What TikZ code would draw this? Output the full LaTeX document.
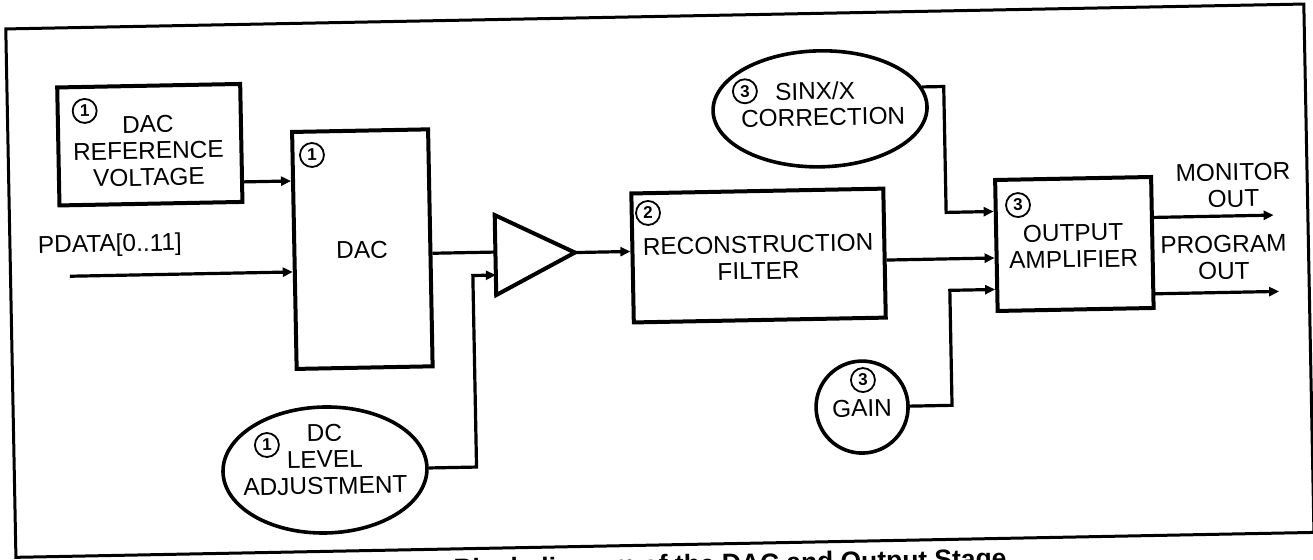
\documentclass[tikz,border=0pt]{standalone}
\usepackage{fontspec}
\setmainfont{Liberation Sans}
\usetikzlibrary{shapes.geometric,arrows.meta}
\tikzset{
  blk/.style={draw, line width=2pt, rectangle, inner sep=0pt},
  oval/.style={draw, line width=1.8pt, ellipse, inner sep=0pt},
  num/.style={draw, circle, line width=0.9pt, inner sep=0pt, minimum size=12pt, font=\fontsize{8.5}{8.5}\selectfont\bfseries},
  lbl/.style={align=center, inner sep=0pt, font=\fontsize{12.2}{13.25}\selectfont},
  conn/.style={line width=1.6pt},
  arr/.style={conn, -{Triangle[length=5pt,width=4.5pt]}},
}
\begin{document}
\begin{tikzpicture}[x=0.5pt,y=-0.5pt]
\useasboundingbox (0,0) rectangle (1313,559);
\clip (0,0) rectangle (1313,559);
\fill[white] (0,0) rectangle (1313,559);
\begin{scope}[rotate around={1.1:(656,280)}, transform shape]
% frame and caption
\node[draw, line width=1.5pt, minimum width=1298.3*0.5pt, minimum height=528.5*0.5pt, inner sep=0pt] (frame) at (659.85,280.75) {};
\node[anchor=base west, inner sep=0pt, font=\fontsize{13.2}{14}\selectfont\bfseries] (cap) at (447.7,574) {Block diagram of the DAC and Output Stage};
% blocks
\node[blk, minimum width=183*0.5pt, minimum height=118*0.5pt] (ref) at (152.5,135) {};
\node[blk, minimum width=136*0.5pt, minimum height=237*0.5pt] (dac) at (363,243.5) {};
\node[blk, minimum width=252*0.5pt, minimum height=129*0.5pt] (rf) at (759,257.5) {};
\node[blk, minimum width=156*0.5pt, minimum height=131*0.5pt] (oa) at (1075,252) {};
\node[oval, minimum width=204*0.5pt, minimum height=126*0.5pt] (dcl) at (321.4,463.6) {};
\node[oval, minimum width=214*0.5pt, minimum height=116*0.5pt] (sinx) at (823.3,112) {};
\node[oval, circle, minimum size=92*0.5pt] (gain) at (859.6,411) {};
% amplifier triangle
\coordinate (tA) at (496,212);
\coordinate (tB) at (575.5,251);
\coordinate (tC) at (496,292);
\draw[line width=2pt, line join=miter] (tA) -- (tB) -- (tC) -- cycle;
% labels
\node[lbl] (refT) at (151,141) {DAC\\REFERENCE\\VOLTAGE};
\node[lbl] (dacT) at (362.6,244.4) {DAC};
\node[lbl] (rfT) at (758.7,259.5) {RECONSTRUCTION\\FILTER};
\node[lbl] (oaT) at (1074,254) {OUTPUT\\AMPLIFIER};
\node[lbl] (dclT) at (321.5,453) {DC\\LEVEL\\ADJUSTMENT};
\node[lbl] (sinxT1) at (818.7,94) {SINX/X};
\node[lbl] (sinxT2) at (826.3,120.5) {CORRECTION};
\node[lbl] (gainT) at (859.6,412) {GAIN};
\node[lbl] (pdT) at (110.7,235) {PDATA[0..11]};
\node[lbl] (monT) at (1235,196.5) {MONITOR\\OUT};
\node[lbl] (prgT) at (1224,268.5) {PROGRAM\\OUT};
% number circles
\node[num] (n1a) at (88,100) {1};
\node[num] (n1b) at (314.4,148.4) {1};
\node[num] (n2) at (649.3,212.8) {2};
\node[num] (n3a) at (1019.4,212) {3};
\node[num] (n1c) at (263.8,437.5) {1};
\node[num] (n3b) at (748.5,93) {3};
\node[num] (n3c) at (861,384) {3};
% connectors
\coordinate (refout) at ([yshift=-19.5pt]ref.east);
\draw[arr] (refout) -- (refout -| dac.west);
\coordinate (pin) at (70,265);
\draw[arr] (pin) -- (pin -| dac.west);
\coordinate (dacout) at ([yshift=-2.75pt]dac.east);
\draw[conn] (dacout) -- (dacout -| tA);
\coordinate (tin2) at (496,272);
\draw[arr] (dcl.east) -| ([xshift=-11.5pt]tin2) -- (tin2);
\draw[arr] (tB) -- (tB -| rf.west);
\coordinate (rfout) at ([yshift=-3.5pt]rf.east);
\draw[arr] (rfout) -- (rfout -| oa.west);
\coordinate (oain1) at ([yshift=17pt]oa.west);
\draw[arr] (sinx.11) -| ([xshift=-23.75pt]oain1) -- (oain1);
\coordinate (oain3) at ([yshift=-22pt]oa.west);
\draw[arr] (gain.east) -| ([xshift=-22.65pt]oain3) -- (oain3);
\coordinate (mon) at ([yshift=12.5pt]oa.east);
\coordinate (monend) at ([xshift=60pt]mon);
\draw[arr] (mon) -- (monend);
\coordinate (prg) at ([yshift=-25.7pt]oa.east);
\coordinate (prgend) at ([xshift=62pt]prg);
\draw[arr] (prg) -- (prgend);
\end{scope}
\end{tikzpicture}
\end{document}
